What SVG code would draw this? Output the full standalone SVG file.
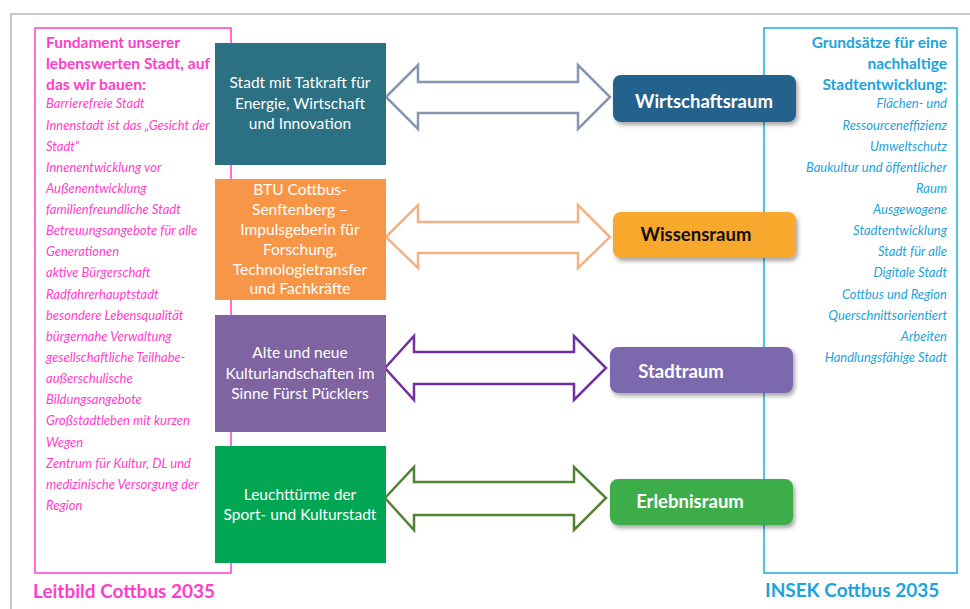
<svg xmlns="http://www.w3.org/2000/svg" width="970" height="609" viewBox="0 0 970 609">
<style>
.pinkH{font-family:Lato,"Liberation Sans",sans-serif;font-weight:bold;font-size:15.5px;fill:#FF3DCB}
.pinkI{font-family:Lato,"Liberation Sans",sans-serif;font-style:italic;font-size:13px;fill:#FF3DCB}
.blueH{font-family:Lato,"Liberation Sans",sans-serif;font-weight:bold;font-size:15.5px;fill:#1BA3DC;text-anchor:end}
.blueI{font-family:Lato,"Liberation Sans",sans-serif;font-style:italic;font-size:13px;fill:#1BA3DC;text-anchor:end}
.foot{font-family:Lato,"Liberation Sans",sans-serif;font-weight:bold;font-size:19px}
.boxT{font-family:Lato,"Liberation Sans",sans-serif;font-size:15.5px;fill:#fff;text-anchor:middle}
.rT{font-family:Lato,"Liberation Sans",sans-serif;font-weight:bold;font-size:18.5px;text-anchor:middle}
.arrow{fill:#fff;stroke-width:2.5;stroke-linejoin:miter}
</style>
<defs>
<filter id="sh" x="-10%" y="-20%" width="130%" height="160%">
<feDropShadow dx="2" dy="3" stdDeviation="2" flood-color="#000" flood-opacity="0.35"/>
</filter>
</defs>
<rect x="0" y="0" width="970" height="609" fill="#fff"/>
<path d="M11 609 V14 H970" fill="none" stroke="#c8c8c8" stroke-width="2"/>

<g id="leitbild-panel">
<rect x="35" y="28" width="196" height="545" fill="none" stroke="#FF3DCB" stroke-width="1.5"/>
<text class="pinkH" x="46" y="48" textLength="134" lengthAdjust="spacingAndGlyphs">Fundament unserer</text>
<text class="pinkH" x="46" y="69" textLength="164" lengthAdjust="spacingAndGlyphs">lebenswerten Stadt, auf</text>
<text class="pinkH" x="46" y="90" textLength="100" lengthAdjust="spacingAndGlyphs">das wir bauen:</text>
<text class="pinkI" x="46" y="108">Barrierefreie Stadt</text>
<text class="pinkI" x="46" y="130">Innenstadt ist das „Gesicht der</text>
<text class="pinkI" x="46" y="151">Stadt“</text>
<text class="pinkI" x="46" y="172">Innenentwicklung vor</text>
<text class="pinkI" x="46" y="193">Außenentwicklung</text>
<text class="pinkI" x="46" y="214">familienfreundliche Stadt</text>
<text class="pinkI" x="46" y="235">Betreuungsangebote für alle</text>
<text class="pinkI" x="46" y="256">Generationen</text>
<text class="pinkI" x="46" y="277">aktive Bürgerschaft</text>
<text class="pinkI" x="46" y="299">Radfahrerhauptstadt</text>
<text class="pinkI" x="46" y="320">besondere Lebensqualität</text>
<text class="pinkI" x="46" y="341">bürgernahe Verwaltung</text>
<text class="pinkI" x="46" y="362">gesellschaftliche Teilhabe-</text>
<text class="pinkI" x="46" y="383">außerschulische</text>
<text class="pinkI" x="46" y="404">Bildungsangebote</text>
<text class="pinkI" x="46" y="425">Großstadtleben mit kurzen</text>
<text class="pinkI" x="46" y="447">Wegen</text>
<text class="pinkI" x="46" y="468">Zentrum für Kultur, DL und</text>
<text class="pinkI" x="46" y="489">medizinische Versorgung der</text>
<text class="pinkI" x="46" y="510">Region</text>
<text class="foot" x="33" y="598" fill="#FF3DCB">Leitbild Cottbus 2035</text>
</g>

<g id="insek-panel">
<rect x="764" y="28" width="193" height="545" fill="none" stroke="#1AACE3" stroke-width="1.5"/>
<text class="blueH" x="947" y="48">Grundsätze für eine</text>
<text class="blueH" x="947" y="69">nachhaltige</text>
<text class="blueH" x="947" y="90">Stadtentwicklung:</text>
<text class="blueI" x="947" y="108">Flächen- und</text>
<text class="blueI" x="947" y="130">Ressourceneffizienz</text>
<text class="blueI" x="947" y="151">Umweltschutz</text>
<text class="blueI" x="947" y="172">Baukultur und öffentlicher</text>
<text class="blueI" x="947" y="193">Raum</text>
<text class="blueI" x="947" y="214">Ausgewogene</text>
<text class="blueI" x="947" y="235">Stadtentwicklung</text>
<text class="blueI" x="947" y="256">Stadt für alle</text>
<text class="blueI" x="947" y="277">Digitale Stadt</text>
<text class="blueI" x="947" y="299">Cottbus und Region</text>
<text class="blueI" x="947" y="320">Querschnittsorientiert</text>
<text class="blueI" x="947" y="341">Arbeiten</text>
<text class="blueI" x="947" y="362">Handlungsfähige Stadt</text>
<text class="foot" x="765" y="597" fill="#1BA3DC">INSEK Cottbus 2035</text>
</g>

<g id="connectors">
<path class="arrow" stroke="#8497B0" d="M386 97 L418 65 V82 H578 V65 L610 97 L578 129 V113 H418 V129 Z"/>
<path class="arrow" stroke="#F4B183" d="M386 237 L418 205 V222 H578 V205 L610 237 L578 268 V253 H418 V268 Z"/>
<path class="arrow" stroke="#7030A0" d="M385 368 L414 336 V352 H574 V336 L606 368 L574 400 V384 H414 V400 Z"/>
<path class="arrow" stroke="#548235" d="M385 498 L414 467 V482 H574 V467 L606 498 L574 530 V515 H414 V530 Z"/>
</g>

<g id="node-energie">
<rect x="215" y="43" width="171" height="122" fill="#2B7083"/>
<text class="boxT" x="300" y="88">Stadt mit Tatkraft für</text>
<text class="boxT" x="300" y="109">Energie, Wirtschaft</text>
<text class="boxT" x="300" y="129">und Innovation</text>
</g>
<g id="node-btu">
<rect x="215" y="179" width="171" height="121" fill="#F79646"/>
<text class="boxT" x="300" y="195">BTU Cottbus-</text>
<text class="boxT" x="300" y="215">Senftenberg –</text>
<text class="boxT" x="300" y="235">Impulsgeberin für</text>
<text class="boxT" x="300" y="255">Forschung,</text>
<text class="boxT" x="300" y="275">Technologietransfer</text>
<text class="boxT" x="300" y="294">und Fachkräfte</text>
</g>
<g id="node-kultur">
<rect x="215" y="315" width="171" height="117" fill="#8064A2"/>
<text class="boxT" x="300" y="358">Alte und neue</text>
<text class="boxT" x="300" y="379">Kulturlandschaften im</text>
<text class="boxT" x="300" y="399">Sinne Fürst Pücklers</text>
</g>
<g id="node-leuchttuerme">
<rect x="215" y="446" width="171" height="117" fill="#00A651"/>
<text class="boxT" x="300" y="500">Leuchttürme der</text>
<text class="boxT" x="300" y="520">Sport- und Kulturstadt</text>
</g>

<g id="node-wirtschaftsraum">
<rect x="613" y="75" width="183" height="47" rx="8" fill="#20628C" filter="url(#sh)"/>
<text class="rT" x="704" y="108" fill="#fff">Wirtschaftsraum</text>
</g>
<g id="node-wissensraum">
<rect x="613" y="212" width="183" height="46" rx="8" fill="#F9A82D" filter="url(#sh)"/>
<text class="rT" x="696" y="241" fill="#111">Wissensraum</text>
</g>
<g id="node-stadtraum">
<rect x="610" y="347" width="183" height="46" rx="8" fill="#7B67AD" filter="url(#sh)"/>
<text class="rT" x="681" y="378" fill="#fff">Stadtraum</text>
</g>
<g id="node-erlebnisraum">
<rect x="610" y="479" width="183" height="46" rx="8" fill="#3DAD4A" filter="url(#sh)"/>
<text class="rT" x="690" y="508" fill="#fff">Erlebnisraum</text>
</g>
</svg>
